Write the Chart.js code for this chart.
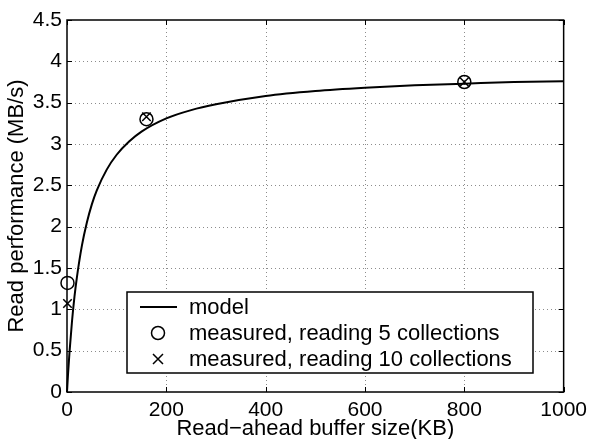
<!DOCTYPE html>
<html>
<head>
<meta charset="utf-8">
<script src="https://cdn.jsdelivr.net/npm/chart.js@4"></script>
<style>
  html, body { margin: 0; padding: 0; background: #fff; }
  #wrap { width: 593px; height: 439px; }
</style>
</head>
<body>
<div id="wrap"><canvas id="chart" width="593" height="439"></canvas></div>
<script>
// model curve
const modelX = [0, 2, 5, 10, 15, 20, 30, 40, 50, 60, 80, 100, 125, 150, 200, 250, 300, 400, 500, 600, 700, 800, 900, 1000];
const modelY = [0, 0.21, 0.48, 0.85, 1.15, 1.39, 1.77, 2.05, 2.27, 2.44, 2.69, 2.87, 3.03, 3.15, 3.31, 3.41, 3.48, 3.58, 3.64, 3.68, 3.71, 3.73, 3.75, 3.76];

// measured points
const measuredX = [1, 160, 800];
const reading5 = [1.32, 3.30, 3.75];
const reading10 = [1.07, 3.33, 3.75];

const xTicks = [0, 200, 400, 600, 800, 1000];
const yTicks = [0, 0.5, 1, 1.5, 2, 2.5, 3, 3.5, 4, 4.5];

const labels = ['model', 'measured, reading 5 collections', 'measured, reading 10 collections'];

const FONT = '"Liberation Sans", Arial, Helvetica, sans-serif';

function pts(xs, ys) {
  return xs.map((x, i) => ({ x: x, y: ys[i] }));
}

// dotted grid under the data
const dottedGrid = {
  id: 'dottedGrid',
  beforeDatasetsDraw(chart) {
    const ctx = chart.ctx;
    const a = chart.chartArea;
    const xs = chart.scales.x, ys = chart.scales.y;
    ctx.save();
    ctx.strokeStyle = '#8c8c8c';
    ctx.lineWidth = 1;
    ctx.setLineDash([1, 3]);
    ctx.beginPath();
    xTicks.slice(1, -1).forEach(v => {
      const px = Math.round(xs.getPixelForValue(v)) + 0.5;
      ctx.moveTo(px, a.top); ctx.lineTo(px, a.bottom);
    });
    yTicks.slice(1, -1).forEach(v => {
      const py = Math.round(ys.getPixelForValue(v)) + 0.5;
      ctx.moveTo(a.left, py); ctx.lineTo(a.right, py);
    });
    ctx.stroke();
    ctx.restore();
  }
};

// frame, inward ticks and the boxed legend, matlab style
const matlabBits = {
  id: 'matlabBits',
  afterDraw(chart) {
    const ctx = chart.ctx;
    const a = chart.chartArea;
    const xs = chart.scales.x, ys = chart.scales.y;
    ctx.save();
    ctx.strokeStyle = '#000';
    ctx.lineWidth = 1;
    ctx.beginPath();
    xTicks.forEach(v => {
      const px = Math.round(xs.getPixelForValue(v)) + 0.5;
      ctx.moveTo(px, a.bottom); ctx.lineTo(px, a.bottom - 5);
      ctx.moveTo(px, a.top); ctx.lineTo(px, a.top + 5);
    });
    yTicks.forEach(v => {
      const py = Math.round(ys.getPixelForValue(v)) + 0.5;
      ctx.moveTo(a.left, py); ctx.lineTo(a.left + 5, py);
      ctx.moveTo(a.right, py); ctx.lineTo(a.right - 5, py);
    });
    ctx.stroke();
    ctx.lineWidth = 1.5;
    ctx.strokeRect(a.left, a.top, a.right - a.left, a.bottom - a.top);

    // legend box
    const L = 127, T = 292, R = 533, B = 373;
    ctx.fillStyle = '#fff';
    ctx.fillRect(L, T, R - L, B - T);
    ctx.lineWidth = 1.5;
    ctx.strokeRect(L, T, R - L, B - T);
    const rows = [307, 333, 359];
    ctx.font = '22px ' + FONT;
    ctx.fillStyle = '#000';
    ctx.textBaseline = 'middle';
    ctx.textAlign = 'left';
    labels.forEach((t, i) => ctx.fillText(t, 189, rows[i] + 1));
    ctx.lineWidth = 2;
    ctx.beginPath();
    ctx.moveTo(140, rows[0]); ctx.lineTo(177, rows[0]);
    ctx.stroke();
    ctx.lineWidth = 1.5;
    ctx.beginPath();
    ctx.arc(158, rows[1], 6.5, 0, Math.PI * 2);
    ctx.stroke();
    ctx.beginPath();
    ctx.moveTo(153, rows[2] - 5); ctx.lineTo(163, rows[2] + 5);
    ctx.moveTo(163, rows[2] - 5); ctx.lineTo(153, rows[2] + 5);
    ctx.stroke();
    ctx.restore();
  }
};

new Chart(document.getElementById('chart'), {
  type: 'scatter',
  data: {
    datasets: [{
      label: labels[0],
      type: 'line',
      data: pts(modelX, modelY),
      borderColor: '#000',
      borderWidth: 2,
      pointRadius: 0,
      cubicInterpolationMode: 'monotone',
      fill: false
    }, {
      label: labels[1],
      data: pts(measuredX, reading5),
      pointStyle: 'circle',
      pointRadius: 6.5,
      borderColor: '#000',
      backgroundColor: 'rgba(0,0,0,0)',
      borderWidth: 1.5
    }, {
      label: labels[2],
      data: pts(measuredX, reading10),
      pointStyle: 'crossRot',
      pointRadius: 6,
      borderColor: '#000',
      borderWidth: 1.5
    }]
  },
  options: {
    responsive: false,
    animation: false,
    clip: false,
    layout: { padding: { top: 20, right: 25, left: 0, bottom: 0 } },
    plugins: {
      legend: { display: false },
      tooltip: { enabled: false }
    },
    scales: {
      x: {
        type: 'linear',
        min: 0, max: 1000,
        afterFit: s => { s.height = 47; },
        afterBuildTicks: s => { s.ticks = xTicks.map(v => ({ value: v })); },
        grid: { display: false, drawTicks: false },
        border: { display: false },
        ticks: { color: '#000', font: { family: FONT, size: 21 }, padding: 6, maxRotation: 0, callback: v => String(v) },
        title: { display: true, text: 'Read\u2212ahead buffer size(KB)', color: '#000', font: { family: FONT, size: 22 }, padding: { top: 0, bottom: -3 } }
      },
      y: {
        type: 'linear',
        min: 0, max: 4.5,
        afterFit: s => { s.width = 67; },
        afterBuildTicks: s => { s.ticks = yTicks.map(v => ({ value: v })); },
        grid: { display: false, drawTicks: false },
        border: { display: false },
        ticks: { color: '#000', font: { family: FONT, size: 21 }, padding: 5, callback: v => String(v) },
        title: { display: true, text: 'Read performance (MB/s)', color: '#000', font: { family: FONT, size: 22 }, padding: { top: 4, bottom: 0 } }
      }
    }
  },
  plugins: [dottedGrid, matlabBits]
});
</script>
</body>
</html>
